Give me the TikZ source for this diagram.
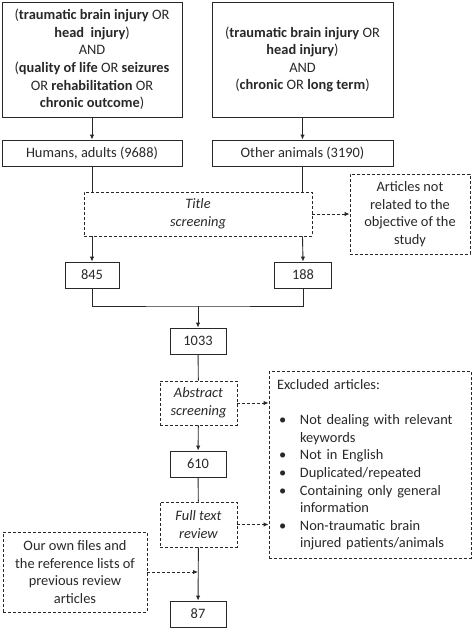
\documentclass[tikz,border=0pt]{standalone}
\usepackage{fontspec}
\setmainfont{Carlito}
\usetikzlibrary{arrows.meta}
\definecolor{ink}{RGB}{40,40,40}
\newcommand{\chartfont}{\fontsize{14.4}{17.6}\selectfont}
\newcommand{\exitem}[1]{\par\hangindent=23pt\hangafter=1\noindent\makebox[23pt][l]{\hspace{2pt}\textbullet}#1\par}
\begin{document}
\begin{tikzpicture}[x=1pt,y=-1pt, color=ink,
    font=\chartfont,
    box/.style={draw, line width=0.9pt, align=center, inner sep=2pt},
    dbox/.style={box, dash pattern=on 3pt off 2pt},
    ibox/.style={dbox, font=\chartfont\itshape},
    flow/.style={line width=0.9pt, -{Latex[length=5pt,width=4.5pt]}},
    dflow/.style={flow, dash pattern=on 3pt off 2pt}]
  \useasboundingbox (0,0) rectangle (472,629);
  \draw
    (92,59.5) node[box, minimum width=180, minimum height=115] (q1)
      {(\textbf{traumatic brain injury} OR\\ \textbf{head\ \ injury})\\ AND\\
       (\textbf{quality of life} OR \textbf{seizures}\\ OR \textbf{rehabilitation} OR\\
       \textbf{chronic outcome})}
    (302.5,59.5) node[box, minimum width=181, minimum height=115] (q2)
      {(\textbf{traumatic brain injury} OR\\ \textbf{head injury})\\ AND\\
       (\textbf{chronic} OR \textbf{long term})}
    (92,153) node[box, minimum width=180, minimum height=26] (hum) {Humans, adults (9688)}
    (302.5,153) node[box, minimum width=181, minimum height=26] (ani) {Other animals (3190)}
    (198,214) node[ibox, minimum width=228, minimum height=44] (title) {Title\\ screening}
    (410,214) node[dbox, minimum width=120, minimum height=80] (notrel)
      {Articles not\\ related to the\\ objective of the\\ study}
    (92,275) node[box, minimum width=54, minimum height=26] (n845) {845}
    (303,275) node[box, minimum width=57, minimum height=26] (n188) {188}
    (198,341) node[box, minimum width=56, minimum height=26] (n1033) {1033}
    (198.5,403) node[ibox, minimum width=77, minimum height=44] (abs) {Abstract\\ screening}
    (370,465) node[dbox, align=left, text width=186, inner sep=8, minimum height=186] (excl)
      {Excluded articles:\par\mbox{}
       \exitem{Not dealing with relevant\hfil\break keywords}
       \exitem{Not in English}
       \exitem{Duplicated/repeated}
       \exitem{Containing only general\hfil\break information}
       \exitem{Non-traumatic brain\hfil\break injured patients/animals}}
    (198,464) node[box, minimum width=56, minimum height=26] (n610) {610}
    (198.5,524.5) node[ibox, minimum width=77, minimum height=45] (full) {Full text\\ review}
    (75,572) node[dbox, minimum width=144, minimum height=80] (own)
      {Our own files and\\ the reference lists of\\ previous review\\ articles}
    (198,614) node[box, minimum width=56, minimum height=26] (n87) {87};
  \coordinate (mid) at (198,306);
  \begin{scope}[flow]
    \draw (q1) to (hum);
    \draw (q2) to (ani);
    \draw[-] (hum.south) to (hum.south |- title.north);
    \draw[-] (ani.south) to (ani.south |- title.north);
    \draw (hum.south |- title.south) to (n845.north);
    \draw (ani.south |- title.south) to (n188.north);
    \draw[-] (n845.south) |- (mid) -| (n188.south);
    \draw (mid) to (n1033.north);
    \draw[-] (n1033) to (abs);
    \draw (abs) to (n610);
    \draw[-] (n610) to (full);
    \draw (full) to (n87);
  \end{scope}
  \begin{scope}[dflow]
    \draw (title.east) to (notrel.west);
    \draw (abs.east) to (excl.west |- abs.east);
    \draw (full.east) to (excl.west |- full.east);
    \draw (own.east) to (own.east -| n87.north);
  \end{scope}
\end{tikzpicture}
\end{document}
